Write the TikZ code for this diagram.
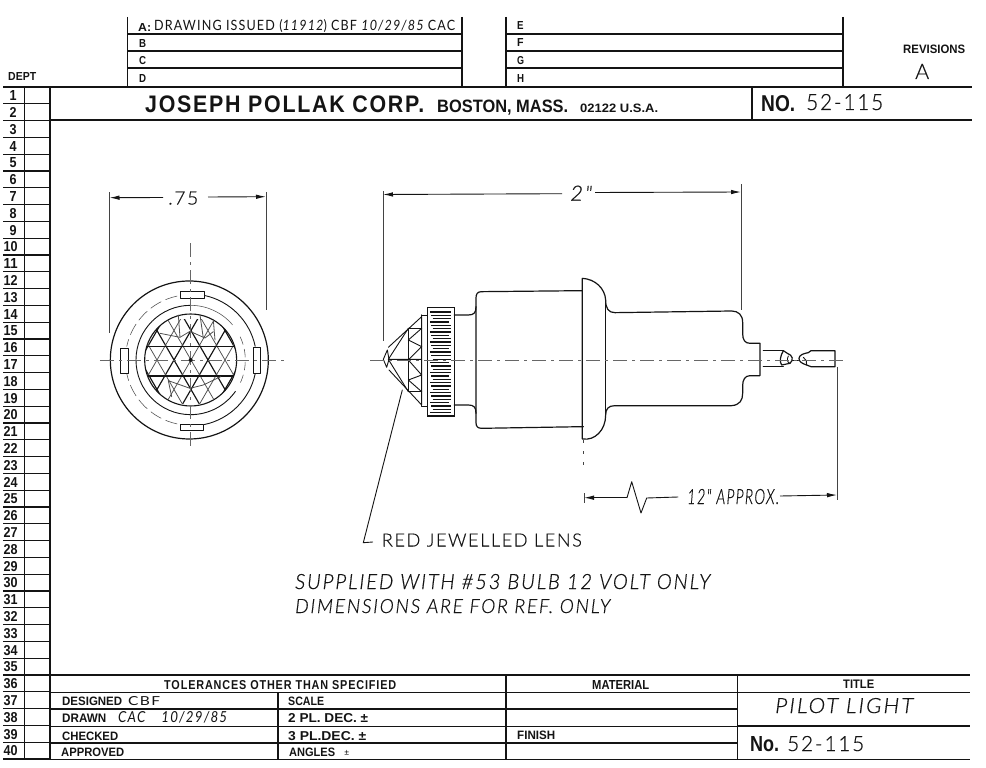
\documentclass[tikz,border=0pt]{standalone}
\usepackage{fontspec}
\usepackage{graphicx}
\usetikzlibrary{arrows.meta}
\setmainfont{Liberation Sans}
\newfontfamily\bfs{Liberation Sans Bold}
\newfontfamily\bfw[LetterSpace=8]{Liberation Sans Bold}
\newfontfamily\hand[LetterSpace=9,FakeBold=0.5]{Lato Light}
\newfontfamily\handi[LetterSpace=9,FakeBold=0.5]{Lato Light Italic}
\newfontfamily\handr[LetterSpace=9]{Lato}
\newfontfamily\handri[LetterSpace=9]{Lato Italic}
\newcommand{\tx}[7]{\node[anchor=base west,inner sep=0pt,text=ink] (#1) at (#2,#3) {\resizebox{#4pt}{#5pt}{#6#7}};}
\definecolor{ink}{gray}{0.08}
\tikzset{
  ln/.style={draw=ink,line width=1.3pt},
  fine/.style={draw=ink,line width=0.9pt,line cap=round,line join=round},
  hair/.style={draw=ink!75,line width=0.55pt,line cap=round},
  center line/.style={draw=ink!65,line width=0.6pt,dash pattern=on 14pt off 5pt on 3pt off 5pt},
  dimline/.style={draw=ink,line width=0.9pt,-{Latex[length=10pt,width=4.5pt]}},
  extline/.style={draw=ink!80,line width=0.7pt}
}
\begin{document}
\begin{tikzpicture}[x=1pt,y=-1pt]
\useasboundingbox[fill=white] (0,0) rectangle (986,768);

% --- left department column
\draw[ln] (3,87) -- (972,87);
\foreach \i in {1,...,40}{
  \pgfmathsetmacro{\yy}{87+16.8*\i}
  \draw[ln] (3,\yy) -- (50,\yy);
  \pgfmathsetmacro{\bb}{\yy-3.2}
  \ifnum\i<10
    \tx{r\i}{9.5}{\bb}{7}{10}{\bfs}{\i}
  \else
    \tx{r\i}{3.5}{\bb}{14}{10}{\bfs}{\i}
  \fi
}
\draw[ln] (24.5,87) -- (24.5,759);
\draw[ln] (50,87) -- (50,759);
\tx{dept}{8}{81}{28}{8}{\bfs}{DEPT}

% --- revision boxes
\draw[ln] (127.5,17) -- (127.5,87);
\draw[ln] (462,17) -- (462,87);
\draw[ln] (506,17) -- (506,87);
\draw[ln] (843,17) -- (843,87);
\foreach \yy in {34,51,68}{
  \draw[ln] (127.5,\yy) -- (462,\yy);
  \draw[ln] (506,\yy) -- (843,\yy);
}
\tx{la}{138}{31}{13}{8}{\bfs}{A:}
\tx{lan}{154}{31}{301}{11}{\handr}{DRAWING ISSUED ({\handri 11912}) CBF {\handri 10/29/85} CAC}
\tx{lb}{139}{48}{7}{8}{\bfs}{B}
\tx{lc}{139}{65}{7}{8}{\bfs}{C}
\tx{ld}{139}{82}{7}{8}{\bfs}{D}
\tx{le}{517}{30}{6.5}{8}{\bfs}{E}
\tx{lf}{517}{47}{6.5}{8}{\bfs}{F}
\tx{lg}{517}{65}{7}{8}{\bfs}{G}
\tx{lh}{517}{82}{7}{8}{\bfs}{H}
\tx{revs}{903}{53}{62}{8.5}{\bfs}{REVISIONS}
\tx{reva}{915}{79}{14}{15}{\hand}{A}

% --- title strip
\draw[ln] (50,120) -- (972,120);
\draw[ln] (752,87) -- (752,120);
\tx{corp}{145}{112.7}{279}{16.7}{\bfw}{JOSEPH POLLAK CORP.}
\tx{city}{437}{112.7}{131}{12.5}{\bfs}{BOSTON, MASS.}
\tx{zip}{580}{112.7}{78}{8.5}{\bfs}{02122 U.S.A.}
\tx{no}{761}{111}{34}{16}{\bfs}{NO.}
\tx{nov}{806}{110}{77}{16}{\hand}{52-115}

% --- front view
\begin{scope}[shift={(90,260)},x=0.3333pt,y=-0.3333pt]
  \draw[fine,line width=1.2pt] (298,300) circle (237);
  \draw[fine,line width=1.1pt] (302,300) circle (138);
  \draw[fine] (302,300)++(-78:198) arc[start angle=-78,end angle=-12,radius=198];
  \draw[fine] (302,300)++(78:198) arc[start angle=78,end angle=12,radius=198];
  \draw[hair,dash pattern=on 12pt off 5pt] (302,300)++(-102:196) arc[start angle=-102,end angle=-168,radius=196];
  \draw[hair,dash pattern=on 12pt off 5pt] (302,300)++(102:196) arc[start angle=102,end angle=168,radius=196];
  \draw[fine] (302,300)++(-90:164) arc[start angle=-90,end angle=-270,radius=164];
  \draw[fine] (302,300)++(90:164) arc[start angle=90,end angle=35,radius=164];
  \draw[hair] (302,300)++(-90:164) arc[start angle=-90,end angle=-40,radius=164];
  \draw[hair,dash pattern=on 8pt off 5pt] (302,300)++(-25:164) arc[start angle=-25,end angle=25,radius=164];
  \draw[fine,fill=white] (272,95) rectangle (342,115);
  \draw[fine,fill=white] (272,492) rectangle (340,512);
  \draw[fine,fill=white] (92,265) rectangle (115,340);
  \draw[fine,fill=white] (490,263) rectangle (512,340);
  % jewel facets
  \begin{scope}
    \clip (302,300) circle (138);
    \clip (100,180) rectangle (500,432);
    \foreach \k in {-7,-5,...,7}{
      \draw[fine,line width=1.15pt] ({303+\k*51-173},0) -- ({303+\k*51+173},600);
      \draw[fine,line width=1.15pt] ({303+\k*51+173},0) -- ({303+\k*51-173},600);
    }
    \foreach \k in {-6,-4,...,6}{
      \draw[hair,line width=0.75pt] ({303+\k*51-173},0) -- ({303+\k*51+173},600);
      \draw[hair,line width=0.75pt] ({303+\k*51+173},0) -- ({303+\k*51-173},600);
    }
    \draw[fine,line width=1.2pt] (100,260) -- (500,260);
    \draw[fine,line width=1.2pt] (100,348) -- (500,348);
  \end{scope}
  \draw[hair,line width=0.8pt] (210,220) -- (270,232) -- (300,214) -- (345,234) -- (370,215);
  \draw[hair,line width=0.8pt] (265,165) -- (270,232);
  \draw[hair,line width=0.8pt] (330,165) -- (340,235);
  \draw[hair,line width=0.8pt] (370,180) -- (375,240);
  \draw[hair,line width=0.8pt] (235,362) -- (245,410);
  \draw[hair,line width=0.8pt] (235,362) -- (300,385) -- (340,375) -- (392,350);
  \draw[center line] (30,300) -- (592,300);
  \draw[center line] (302,-50) -- (302,570);
  \fill[ink] (302,300) circle (6);
\end{scope}

% --- side view
\begin{scope}[shift={(370,270)},x=0.3333pt,y=-0.3333pt]
  % lens tip and cone
  \draw[fine] (40,268) -- (52,240) -- (57,268) -- (50,292) -- cycle;
  \draw[fine] (55,232) -- (155,140) -- (155,405) -- (57,300);
  \draw[fine] (155,135) -- (172,135) (155,408) -- (172,408);
  \draw[fine,line width=1.1pt] (155,135) -- (155,408);
  \draw[fine] (115,175) -- (115,365);
  \draw[fine] (115,175) -- (155,175) (115,365) -- (155,365);
  \draw[fine] (55,268) -- (115,175) (55,268) -- (115,365) (55,268) -- (155,268);
  \draw[fine] (115,210) -- (155,175) (115,210) -- (155,230) -- (115,270) -- (155,315) -- (115,330) -- (155,365);
  % knurled collar
  \draw[ln,fill=white] (172,112) rectangle (253,438);
  \foreach \yy [count=\c] in {126,136,146,156,166,176,186,196,206,216,226,236,246,256,268,278,288,298,308,318,328,338,348,358,368,378,388,398,408,418,428}{
    \pgfmathsetmacro{\xa}{mod(\c,3)==0 ? 188 : (mod(\c,3)==1 ? 180 : 184)}
    \pgfmathsetmacro{\xb}{mod(\c,4)==0 ? 236 : 243}
    \draw[draw=ink,line width=1.6pt] (\xa,\yy) -- (\xb,\yy);
  }
  % neck
  \draw[fine,line width=1.2pt] (253,135) -- (295,135) .. controls (312,135) and (318,128) .. (318,110);
  \draw[fine,line width=1.2pt] (253,405) -- (295,405) .. controls (312,405) and (318,412) .. (318,430);
  % front body
  \draw[fine,line width=1.2pt] (637,62) -- (335,65) .. controls (322,65) and (318,72) .. (318,85)
     -- (318,458) .. controls (318,470) and (324,475) .. (335,475) -- (640,470);
\end{scope}

\begin{scope}[shift={(575,265)},x=0.3333pt,y=-0.3333pt]
  % flange and rear body
  \draw[fine,line width=1.2pt] (22,40) -- (22,522) .. controls (60,528) and (92,495) .. (92,450)
     .. controls (92,432) and (100,422) .. (120,422) -- (470,422)
     .. controls (495,420) and (503,405) .. (503,385) -- (503,362)
     .. controls (503,345) and (510,332) .. (525,332) -- (555,332) -- (555,235) -- (525,235)
     .. controls (510,235) and (503,225) .. (503,205) -- (503,172)
     .. controls (503,150) and (490,138) .. (470,138) -- (120,143)
     .. controls (100,143) and (92,130) .. (92,105) .. controls (90,70) and (60,42) .. (22,40) -- cycle;
  \draw[fine] (90,110) -- (90,452);
\end{scope}

% --- wire stub and terminal
\begin{scope}[shift={(700,320)},x=0.3333pt,y=-0.3333pt]
  \draw[fine,line width=1.2pt] (190,92) -- (250,92) (190,140) -- (250,140);
  \draw[fine,line width=1.2pt] (250,92) .. controls (240,110) and (238,125) .. (245,135) -- (270,130) .. controls (282,120) and (278,105) .. (262,100) -- (250,92);
  \draw[fine] (265,108) .. controls (260,118) and (262,128) .. (270,130);
  \draw[fine] (278,120) -- (295,120);
  \draw[fine,line width=1.2pt] (297,115) .. controls (297,105) and (312,100) .. (325,98) -- (333,92) -- (405,92) -- (405,140) -- (333,140) -- (320,135) .. controls (305,130) and (297,125) .. (297,115);
  \draw[fine] (310,112) .. controls (318,118) and (322,125) .. (320,135);
\end{scope}
\draw[center line] (370,360) -- (845,360);

% --- lens leader and labels
\coordinate (leadtop) at (402.3,390);
\coordinate (leadfoot) at (363.3,542.7);
\coordinate (leadend) at (372.7,542);
\draw[fine] (leadtop) -- (leadfoot) -- (leadend);
\tx{lens}{381.7}{546.5}{200}{13}{\hand}{RED JEWELLED LENS}
\tx{note1}{295}{589}{415}{15}{\handi}{SUPPLIED WITH \#53 BULB 12 VOLT ONLY}
\tx{note2}{295}{613}{315}{14}{\handi}{DIMENSIONS ARE FOR REF. ONLY}

% --- dimension .75
\coordinate (al) at (109.5,197.7);
\coordinate (ar) at (266,196.7);
\draw[extline] (109.5,192) -- (109.5,333);
\draw[extline] (266,192) -- (266,310);
\tx{d75}{168}{204.5}{30}{13}{\hand}{.75}
\draw[dimline] (163,197.5) -- (al);
\draw[dimline] (208,197) -- (ar);

% --- dimension 2"
\coordinate (bl) at (383,194.5);
\coordinate (br) at (741,192);
\draw[extline] (383,191) -- (383,341);
\draw[extline] (741,184) -- (741,310);
\tx{d2}{570}{200.7}{22}{15}{\handi}{2"}
\draw[dimline] (562,193.7) -- (bl);
\draw[dimline] (595,192.5) -- (br);

% --- dimension 12" approx
\coordinate (cl) at (584,497.7);
\coordinate (cr) at (837,495);
\draw[extline,dash pattern=on 3pt off 8pt] (583.5,440) -- (583.5,470);
\draw[extline] (584,493) -- (584,503);
\draw[extline] (837,367) -- (837,500);
\tx{d12}{687}{504}{92}{15}{\handi}{12" APPROX.}
\draw[dimline] (627,497.7) -- (cl);
\draw[fine] (627,497.7) -- (631.7,481.7) -- (641,513) -- (646.7,498) -- (678,497);
\draw[dimline] (780,496) -- (cr);

% --- bottom title block
\foreach \yy in {675,692.5,709,726.5,743,759.5}{ \draw[ln] (50,\yy) -- (737,\yy); }
\draw[ln] (737,675) -- (970,675);
\draw[ln] (737,692.5) -- (970,692.5);
\draw[ln] (737,726) -- (970,726);
\draw[ln] (737,759.5) -- (970,759.5);
\draw[ln] (278,692.5) -- (278,759.5);
\draw[ln] (506,675) -- (506,759.5);
\draw[ln] (737.5,675) -- (737.5,759.5);
\tx{tol}{164}{689.3}{232}{9}{\bfw}{TOLERANCES OTHER THAN SPECIFIED}
\tx{des}{62}{705.7}{60}{8.5}{\bfs}{DESIGNED}
\tx{desv}{128}{705}{32}{9}{\handr}{CBF}
\tx{drw}{62}{722}{44}{8.5}{\bfs}{DRAWN}
\tx{drwv}{118}{722}{109}{11}{\handri}{CAC\hspace{1.2em}10/29/85}
\tx{chk}{62}{740}{56}{8.5}{\bfs}{CHECKED}
\tx{apr}{61}{756}{63}{8.5}{\bfs}{APPROVED}
\tx{scl}{288}{705.7}{36}{8.5}{\bfs}{SCALE}
\tx{pl2}{288}{722.6}{80}{9}{\bfs}{2 PL. DEC. ±}
\tx{pl3}{288}{740}{78}{9}{\bfs}{3 PL.DEC. ±}
\tx{ang}{289}{756}{46}{8.5}{\bfs}{ANGLES}
\tx{angp}{344}{755}{5}{5}{\hand}{±}
\tx{mat}{592}{689}{57}{9}{\bfs}{MATERIAL}
\tx{ttl}{843}{688}{31}{8.5}{\bfs}{TITLE}
\tx{fin}{517}{739}{38}{8.5}{\bfs}{FINISH}
\tx{pilot}{775}{713}{138}{15}{\handi}{PILOT LIGHT}
\tx{nob}{750}{751.7}{29}{15}{\bfs}{No.}
\tx{nob2}{787}{751}{77}{15}{\hand}{52-115}
\end{tikzpicture}
\end{document}
